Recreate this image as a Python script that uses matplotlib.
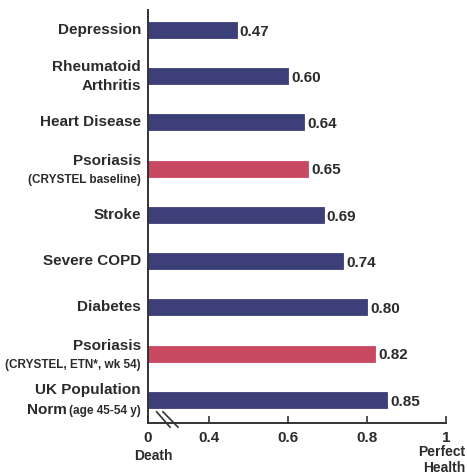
import matplotlib
matplotlib.use("Agg")
import matplotlib.pyplot as plt
from matplotlib.transforms import blended_transform_factory, offset_copy

plt.rcParams['font.family'] = ['Liberation Sans', 'DejaVu Sans']
plt.rcParams['font.weight'] = 'bold'

# health state utility scores, top to bottom
names = ["Depression", "Rheumatoid\nArthritis", "Heart Disease", "Psoriasis",
         "Stroke", "Severe COPD", "Diabetes", "Psoriasis", "UK Population\nNorm"]
notes = ["", "", "", "(CRYSTEL baseline)", "", "", "",
         "(CRYSTEL, ETN*, wk 54)", "(age 45-54 y)"]
scores = [0.47, 0.60, 0.64, 0.65, 0.69, 0.74, 0.80, 0.82, 0.85]
is_psoriasis = [False, False, False, True, False, False, False, True, False]
tick_vals = [0.4, 0.6, 0.8, 1.0]
tick_text = ["0.4", "0.6", "0.8", "1"]

navy = "#3c3f78"
red = "#c94862"
ink = "#2b2b2b"

# axis is broken: the "0" sits where 0.2456 would be on the linear scale
x0 = 0.2456

fig = plt.figure(figsize=(4.67, 4.76), dpi=100)
ax = fig.add_axes([148 / 467, 1 - 423 / 476, (446 - 148) / 467, 413 / 476])

ys = list(range(len(scores)))
cols = [red if p else navy for p in is_psoriasis]
ax.barh(ys, [s - x0 for s in scores], left=x0, height=0.35, color=cols,
        edgecolor=cols, linewidth=0.6)

for y, s in zip(ys, scores):
    ax.text(s + 0.008, y + 0.04, f"{s:.2f}", va="center", ha="left",
            fontsize=11, color=ink, fontweight="bold")

ax.set_xlim(x0, 1.0)
ax.set_ylim(8.5, -0.43)
ax.set_xticks([x0] + tick_vals)
ax.set_xticklabels(["0"] + tick_text, fontsize=11, color=ink, fontweight="bold")
ax.tick_params(axis="x", direction="in", length=5, width=1.2, color="#333333", pad=6)
ax.set_yticks([])
for sp in ["top", "right"]:
    ax.spines[sp].set_visible(False)
for sp in ["left", "bottom"]:
    ax.spines[sp].set_color("#333333")
    ax.spines[sp].set_linewidth(1.4)

# break marks on the x axis
xt = ax.get_xaxis_transform()
for a, b in [(0.2676, 0.3013), (0.2835, 0.3215)]:
    ax.plot([a, b], [0.027, -0.01], color="#333333", lw=1.2, transform=xt, clip_on=False)

# category labels, big name with optional small note
fig.canvas.draw()
renderer = fig.canvas.get_renderer()
lab_tr = offset_copy(blended_transform_factory(ax.transAxes, ax.transData),
                     fig=fig, x=-7, y=0, units="dots")
for y, n, note in zip(ys, names, notes):
    if note and "\n" in n:
        # note sits on the same line as the last word
        first, last = n.split("\n")
        t = ax.text(0, y + 0.23, note, transform=lab_tr, ha="right", va="center",
                    fontsize=8.5, color=ink, fontweight="bold")
        w = t.get_window_extent(renderer).width
        tr2 = offset_copy(blended_transform_factory(ax.transAxes, ax.transData),
                          fig=fig, x=-7 - w - 2, y=0, units="dots")
        ax.text(0, y + 0.21, last, transform=tr2, ha="right", va="center",
                fontsize=11, color=ink, fontweight="bold")
        ax.text(0, y - 0.22, first, transform=lab_tr, ha="right", va="center",
                fontsize=11, color=ink, fontweight="bold")
    elif note:
        ax.text(0, y - 0.17, n, transform=lab_tr, ha="right", va="center",
                fontsize=11, color=ink, fontweight="bold")
        ax.text(0, y + 0.24, note, transform=lab_tr, ha="right", va="center",
                fontsize=8.5, color=ink, fontweight="bold")
    else:
        ax.text(0, y, n, transform=lab_tr, ha="right", va="center",
                fontsize=11, color=ink, fontweight="bold", linespacing=1.45)

fig.text(153 / 467, 1 - 456 / 476, "Death", ha="center", va="center",
         fontsize=10, color=ink, fontweight="bold")
fig.text(465 / 467, 1 - 460 / 476, "Perfect\nHealth", ha="right", va="center",
         fontsize=10, color=ink, fontweight="bold", multialignment="right",
         linespacing=1.15)

fig.savefig("out.png", dpi=100)
